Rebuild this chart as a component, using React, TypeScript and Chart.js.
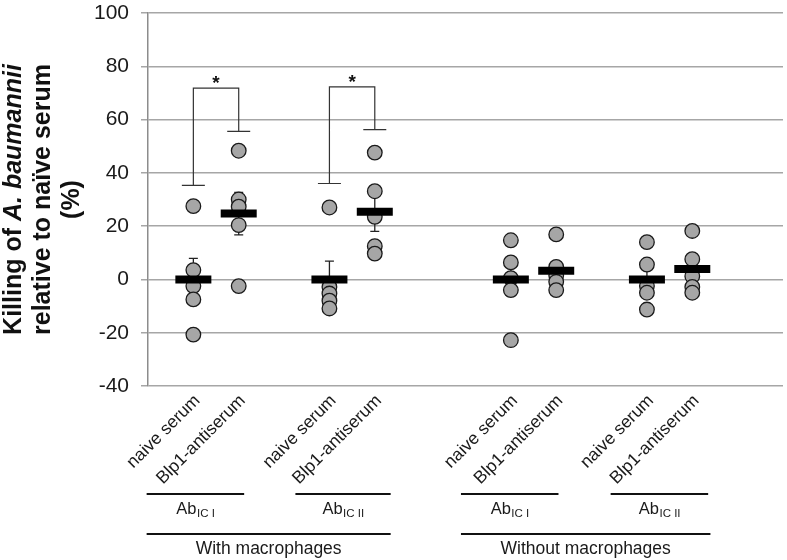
import React, { useEffect, useRef } from "react";
import { Chart, registerables } from "chart.js";

Chart.register(...registerables);

// ---- data ----
const categoryX = [0, 1, 3, 4, 7, 8, 10, 11];
const categoryLabels = [
  "naive serum", "Blp1-antiserum",
  "naive serum", "Blp1-antiserum",
  "naive serum", "Blp1-antiserum",
  "naive serum", "Blp1-antiserum",
];
const ptsWithIcINaive = [27.5, 3.5, -2.5, -7.5, -20.7];
const ptsWithIcIBlp1 = [48.3, 30, 27.3, 20.4, -2.5];
const ptsWithIcIINaive = [27, -2.8, -5.3, -8, -10.9];
const ptsWithIcIIBlp1 = [47.6, 33.1, 23.5, 12.5, 9.7];
const ptsWithoutIcINaive = [14.7, 6.4, 0.5, -4, -22.8];
const ptsWithoutIcIBlp1 = [16.9, 4.7, 1.5, -0.9, -4];
const ptsWithoutIcIINaive = [14, 5.6, -2.5, -5, -11.3];
const ptsWithoutIcIIBlp1 = [18.2, 7.6, 1.2, -2.8, -5];
const allPoints = [
  ptsWithIcINaive, ptsWithIcIBlp1, ptsWithIcIINaive, ptsWithIcIIBlp1,
  ptsWithoutIcINaive, ptsWithoutIcIBlp1, ptsWithoutIcIINaive, ptsWithoutIcIIBlp1,
];
const means = [0, 24.7, 0, 25.4, 0, 3.3, 0, 3.9];
const sems = [7.9, 8.0, 6.9, 7.4, 6.2, 3.3, 5.6, 3.6];

// significance brackets (data space)
const bracketLeft = [0, 3];
const bracketRight = [1, 4];
const bracketLeftY = [35.3, 36];
const bracketRightY = [55.6, 56.2];
const bracketTopY = [71.8, 72.3];
const bracketStarY = [74.8, 75.5];

// grouping labels
const abLabelsSub = ["IC I", "IC II", "IC I", "IC II"];
const abStart = [-1.03, 2.25, 5.9, 9.2];
const abEnd = [1.12, 4.35, 8.05, 11.35];
const macroLabels = ["With macrophages", "Without macrophages"];
const macroStart = [-1.03, 5.9];
const macroEnd = [4.35, 11.4];

const yMin = -40;
const yMax = 100;
const yStep = 20;

const FONT = "'Liberation Sans', Arial, Helvetica, sans-serif";

const annotPlugin = {
  id: "annot",
  beforeDatasetsDraw(chart: any) {
    const { ctx, scales } = chart;
    const xs = scales.x, ys = scales.y;
    ctx.save();
    ctx.strokeStyle = "#222";
    ctx.lineWidth = 1.3;
    for (let i = 0; i < categoryX.length; i++) {
      const x = xs.getPixelForValue(categoryX[i]);
      const yt = ys.getPixelForValue(means[i] + sems[i]);
      const yb = ys.getPixelForValue(means[i] - sems[i]);
      ctx.beginPath();
      ctx.moveTo(x, yt); ctx.lineTo(x, yb);
      ctx.moveTo(x - 4.5, yt); ctx.lineTo(x + 4.5, yt);
      ctx.moveTo(x - 4.5, yb); ctx.lineTo(x + 4.5, yb);
      ctx.stroke();
    }
    ctx.restore();
  },
  afterDatasetsDraw(chart: any) {
    const { ctx, scales } = chart;
    const xs = scales.x, ys = scales.y;
    ctx.save();
    ctx.strokeStyle = "#333";
    ctx.lineWidth = 1.2;
    for (let i = 0; i < bracketLeft.length; i++) {
      const xl = xs.getPixelForValue(bracketLeft[i]);
      const xr = xs.getPixelForValue(bracketRight[i]);
      const yl = ys.getPixelForValue(bracketLeftY[i]);
      const yr = ys.getPixelForValue(bracketRightY[i]);
      const yt = ys.getPixelForValue(bracketTopY[i]);
      ctx.beginPath();
      ctx.moveTo(xl - 11.5, yl); ctx.lineTo(xl + 11.5, yl);
      ctx.moveTo(xl, yl); ctx.lineTo(xl, yt); ctx.lineTo(xr, yt); ctx.lineTo(xr, yr);
      ctx.moveTo(xr - 11.5, yr); ctx.lineTo(xr + 11.5, yr);
      ctx.stroke();
      ctx.fillStyle = "#111";
      ctx.font = `bold 19px ${FONT}`;
      ctx.textAlign = "center";
      ctx.textBaseline = "middle";
      ctx.fillText("*", (xl + xr) / 2, ys.getPixelForValue(bracketStarY[i]) + 4);
    }
    ctx.restore();
  },
  afterDraw(chart: any) {
    const { ctx, scales, chartArea } = chart;
    const xs = scales.x;
    const bottom = chartArea.bottom;
    ctx.save();
    // rotated category labels
    ctx.fillStyle = "#1a1a1a";
    ctx.font = `17.5px ${FONT}`;
    ctx.textAlign = "right";
    ctx.textBaseline = "middle";
    for (let i = 0; i < categoryX.length; i++) {
      const x = xs.getPixelForValue(categoryX[i]);
      ctx.save();
      ctx.translate(x + 4, bottom + 12);
      ctx.rotate(-Math.PI / 4);
      ctx.fillText(categoryLabels[i], 0, 0);
      ctx.restore();
    }
    // Ab lines and labels
    ctx.strokeStyle = "#111";
    ctx.lineWidth = 2;
    for (let i = 0; i < abStart.length; i++) {
      const x0 = xs.getPixelForValue(abStart[i]);
      const x1 = xs.getPixelForValue(abEnd[i]);
      ctx.beginPath();
      ctx.moveTo(x0, bottom + 108); ctx.lineTo(x1, bottom + 108);
      ctx.stroke();
      ctx.font = `16.5px ${FONT}`;
      const w1 = ctx.measureText("Ab").width;
      ctx.font = `11.5px ${FONT}`;
      const w2 = ctx.measureText(abLabelsSub[i]).width;
      const cx = (x0 + x1) / 2;
      const sx = cx - (w1 + w2) / 2;
      ctx.textAlign = "left";
      ctx.textBaseline = "alphabetic";
      ctx.font = `16.5px ${FONT}`;
      ctx.fillText("Ab", sx, bottom + 128);
      ctx.font = `11.5px ${FONT}`;
      ctx.fillText(abLabelsSub[i], sx + w1 + 0.5, bottom + 131);
    }
    for (let i = 0; i < macroStart.length; i++) {
      const x0 = xs.getPixelForValue(macroStart[i]);
      const x1 = xs.getPixelForValue(macroEnd[i]);
      ctx.beginPath();
      ctx.moveTo(x0, bottom + 148); ctx.lineTo(x1, bottom + 148);
      ctx.stroke();
      ctx.font = `17.5px ${FONT}`;
      ctx.textAlign = "center";
      ctx.textBaseline = "alphabetic";
      ctx.fillText(macroLabels[i], (x0 + x1) / 2, bottom + 168);
    }
    // y-axis title
    const cy = (chartArea.top + chartArea.bottom) / 2;
    const lines: Array<Array<[string, boolean]>> = [
      [["Killing of ", false], ["A. baumannii", true]],
      [["relative to naïve serum", false]],
      [["(%)", false]],
    ];
    const lineX = [14, 43, 72];
    ctx.fillStyle = "#111";
    ctx.textBaseline = "middle";
    ctx.textAlign = "left";
    for (let l = 0; l < lines.length; l++) {
      let total = 0;
      const widths: number[] = [];
      for (const [t, it] of lines[l]) {
        ctx.font = `${it ? "italic " : ""}bold 25px ${FONT}`;
        const w = ctx.measureText(t).width;
        widths.push(w);
        total += w;
      }
      ctx.save();
      ctx.translate(lineX[l], cy);
      ctx.rotate(-Math.PI / 2);
      let px = -total / 2;
      lines[l].forEach(([t, it], k) => {
        ctx.font = `${it ? "italic " : ""}bold 25px ${FONT}`;
        ctx.fillText(t, px, 0);
        px += widths[k];
      });
      ctx.restore();
    }
    ctx.restore();
  },
};

export default function App() {
  const ref = useRef<HTMLCanvasElement | null>(null);
  useEffect(() => {
    if (!ref.current) return;
    const pointData: Array<{ x: number; y: number }> = [];
    allPoints.forEach((arr, i) => arr.forEach((v) => pointData.push({ x: categoryX[i], y: v })));
    const meanData = means.map((m, i) => ({ x: categoryX[i], y: m }));
    const chart = new Chart(ref.current, {
      type: "scatter",
      data: {
        datasets: [
          {
            label: "mean",
            data: meanData,
            pointStyle: "line",
            pointRadius: 18,
            pointHoverRadius: 18,
            borderColor: "#000",
            backgroundColor: "#000",
            borderWidth: 8,
            pointBorderWidth: 8,
            order: 0,
          } as any,
          {
            label: "individual",
            data: pointData,
            pointStyle: "circle",
            pointRadius: 7.3,
            pointHoverRadius: 7.3,
            backgroundColor: "#a6a6a6",
            borderColor: "#1a1a1a",
            pointBorderWidth: 1.3,
            borderWidth: 1.3,
            order: 1,
          } as any,
        ],
      },
      options: {
        responsive: false,
        animation: false,
        layout: { autoPadding: false, padding: { left: 0, right: 4, top: 13, bottom: 174 } },
        plugins: { legend: { display: false }, tooltip: { enabled: false } },
        scales: {
          x: {
            type: "linear", min: -1, max: 13, display: false,
          },
          y: {
            min: yMin,
            max: yMax,
            afterFit(scale: any) {
              scale.width = 148;
              scale.paddingTop = 0; scale.paddingBottom = 0;
            },
            ticks: {
              stepSize: yStep,
              color: "#1a1a1a",
              padding: 12,
              font: { family: FONT, size: 21 },
            },
            grid: {
              color: "#a6a6a6",
              lineWidth: 1.5,
              tickLength: 7,
              drawTicks: true,
            },
            border: { color: "#8c8c8c", width: 1.5 },
          },
        },
      } as any,
      plugins: [annotPlugin],
    });
    return () => chart.destroy();
  }, []);
  return (
    <div style={{ position: "absolute", left: 0, top: 0, width: 787, height: 560, background: "#fff" }}>
      <canvas ref={ref} width={787} height={560} style={{ width: 787, height: 560, display: "block" }} />
    </div>
  );
}
